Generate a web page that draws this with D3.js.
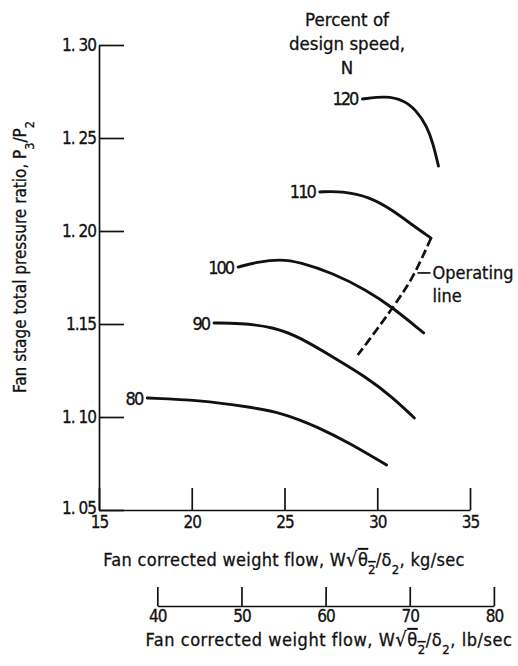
<!DOCTYPE html>
<html>
<head>
<meta charset="utf-8">
<script src="https://cdn.jsdelivr.net/npm/d3@7/dist/d3.min.js"></script>
<style>
  html, body { margin: 0; padding: 0; background: #fff; }
  svg { display: block; }
  text { font-family: "DejaVu Sans Condensed", "DejaVu Sans", sans-serif; font-stretch: condensed; fill: #111; stroke: #111; stroke-width: 0.3px; }
</style>
</head>
<body>
<script>
// Fan stage performance map: pressure ratio vs corrected weight flow, per speed line
const speeds = [80, 90, 100, 110, 120];

const flow80  = [17.6, 20.4, 23.1, 24.9, 26.8, 28.5, 30.5];
const pr80    = [1.1102, 1.1091, 1.1054, 1.1022, 1.0946, 1.0860, 1.0742];

const flow90  = [21.2, 22.6, 24.4, 25.8, 27.6, 29.4, 30.8, 32.0];
const pr90    = [1.1505, 1.1505, 1.1484, 1.1430, 1.1323, 1.1215, 1.1108, 1.0995];

const flow100 = [22.5, 23.5, 24.8, 25.8, 27.6, 29.4, 30.8, 32.5];
const pr100   = [1.1806, 1.1833, 1.1849, 1.1833, 1.1774, 1.1683, 1.1591, 1.1452];

const flow110 = [26.9, 28.1, 29.6, 30.8, 31.9, 32.9];
const pr110   = [1.2210, 1.2215, 1.2183, 1.2113, 1.2032, 1.1962];

const flow120 = [29.2, 30.5, 31.4, 32.1, 32.7, 33.0, 33.3];
const pr120   = [1.2710, 1.2726, 1.2704, 1.2651, 1.2559, 1.2473, 1.2349];

// Operating line (dashed)
const flowOp  = [32.9, 31.9, 30.85, 28.95];
const prOp    = [1.1962, 1.1753, 1.1591, 1.1333];

const kgTicks = [15, 20, 25, 30, 35];
const prTicks = [1.05, 1.10, 1.15, 1.20, 1.25, 1.30];
const prTickLabels = ["1. 05", "1. 10", "1.15", "1. 20", "1. 25", "1. 30"];
const lbTicks = [40, 50, 60, 70, 80];
const LB_PER_KG = 2.20462;

const W = 518, H = 666;
const svg = d3.select("body").append("svg").attr("width", W).attr("height", H);

const x = d3.scaleLinear().domain([15, 35]).range([99, 470]);
const y = d3.scaleLinear().domain([1.05, 1.30]).range([510, 45]);
// Secondary flow scale in lb/sec, aligned with the kg/sec scale
const xLb = d3.scaleLinear().domain([40, 80]).range([x(40 / LB_PER_KG), x(80 / LB_PER_KG)]);

const axisStyle = g => {
  g.selectAll("path.domain").attr("stroke", "#111").attr("stroke-width", 1.7);
  g.selectAll(".tick line").attr("stroke", "#111").attr("stroke-width", 1.7);
  g.selectAll(".tick text").attr("fill", "#111").style("font-size", "17px")
    .style("letter-spacing", "-1px").style("font-family", null);
};

// Pressure-ratio axis, ticks pointing into the plot
svg.append("g").attr("transform", `translate(${x(15)},0)`)
  .call(d3.axisLeft(y).tickValues(prTicks).tickSize(-25).tickSizeOuter(0).tickPadding(3)
    .tickFormat((d, i) => prTickLabels[i]))
  .call(axisStyle)
  .selectAll(".tick text").attr("dy", (d, i) => i === 0 ? "0.2em" : "0.32em");

// kg/sec axis, ticks pointing up
svg.append("g").attr("transform", `translate(0,${y(1.05)})`)
  .call(d3.axisBottom(x).tickValues(kgTicks).tickSize(-22).tickSizeOuter(0).tickPadding(6)
    .tickFormat(d3.format("d")))
  .call(axisStyle);

// lb/sec axis
svg.append("g").attr("transform", "translate(0,606)")
  .call(d3.axisBottom(xLb).tickValues(lbTicks).tickSize(-19).tickSizeOuter(0).tickPadding(4)
    .tickFormat(d3.format("d")))
  .call(axisStyle);

const line = d3.line().x(d => x(d[0])).y(d => y(d[1])).curve(d3.curveBasis);

const series = [
  [flow80, pr80], [flow90, pr90], [flow100, pr100], [flow110, pr110], [flow120, pr120]
];

series.forEach(([fs, ps], i) => {
  const pts = fs.map((f, j) => [f, ps[j]]);
  svg.append("path").datum(pts).attr("d", line)
    .attr("fill", "none").attr("stroke", "#111").attr("stroke-width", 2.9)
    .attr("stroke-linecap", "round");
  // letter-spacing adds a trailing gap, so the anchor is pulled back to compensate
  svg.append("text")
    .attr("x", x(pts[0][0]) - 5).attr("y", y(pts[0][1]))
    .attr("dy", "0.36em").attr("text-anchor", "end")
    .style("font-size", "18px").style("letter-spacing", "-2px").text(speeds[i]);
});

const opPts = flowOp.map((f, j) => [f, prOp[j]]);
svg.append("path").datum(opPts).attr("d", d3.line().x(d => x(d[0])).y(d => y(d[1])).curve(d3.curveCatmullRom))
  .attr("fill", "none").attr("stroke", "#111").attr("stroke-width", 2.7)
  .attr("stroke-dasharray", "9,4");

// Operating line callout
const cx = x(flowOp[1]) + 5, cy = y(prOp[1]) - 4;
svg.append("line").attr("x1", cx).attr("y1", cy).attr("x2", cx + 13).attr("y2", cy)
  .attr("stroke", "#111").attr("stroke-width", 1.7);
svg.append("text").attr("x", cx + 15).attr("y", cy).attr("dy", "0.36em")
  .style("font-size", "18px").text("Operating");
svg.append("text").attr("x", cx + 15).attr("y", cy + 23).attr("dy", "0.36em")
  .style("font-size", "18px").text("line");

// Speed legend heading
const head = svg.append("text").attr("text-anchor", "middle").style("font-size", "18.5px");
["Percent of", "design speed,", "N"].forEach((t, i) => {
  head.append("tspan").attr("x", 347).attr("y", 26 + i * 24).text(t);
});

// Axis titles
const yTitle = svg.append("text")
  .attr("transform", "translate(26,257) rotate(-90)")
  .attr("text-anchor", "middle").style("font-size", "17px");
yTitle.append("tspan").text("Fan stage total pressure ratio,  P");
yTitle.append("tspan").attr("baseline-shift", "sub").style("font-size", "12.5px").text("3");
yTitle.append("tspan").text("/P");
yTitle.append("tspan").attr("baseline-shift", "sub").style("font-size", "12.5px").text("2");

function flowTitle(cxPos, baseY, unit, spacing) {
  const t = svg.append("text").attr("x", cxPos).attr("y", baseY)
    .attr("text-anchor", "middle").style("font-size", "18px").style("letter-spacing", spacing);
  t.append("tspan").text("Fan corrected weight flow,  W");
  t.append("tspan").style("font-size", "20px").text("\u221A");
  t.append("tspan").style("text-decoration", "overline").text("\u03B8");
  t.append("tspan").attr("baseline-shift", "sub").style("font-size", "13px").style("text-decoration", "overline").text("2");
  t.append("tspan").text("/\u03B4");
  t.append("tspan").attr("baseline-shift", "sub").style("font-size", "13px").text("2");
  t.append("tspan").text(",  " + unit);
}
flowTitle(284, 566, "kg/sec", "0.3px");
flowTitle(329, 646, "lb/sec", "0.55px");
</script>
</body>
</html>
